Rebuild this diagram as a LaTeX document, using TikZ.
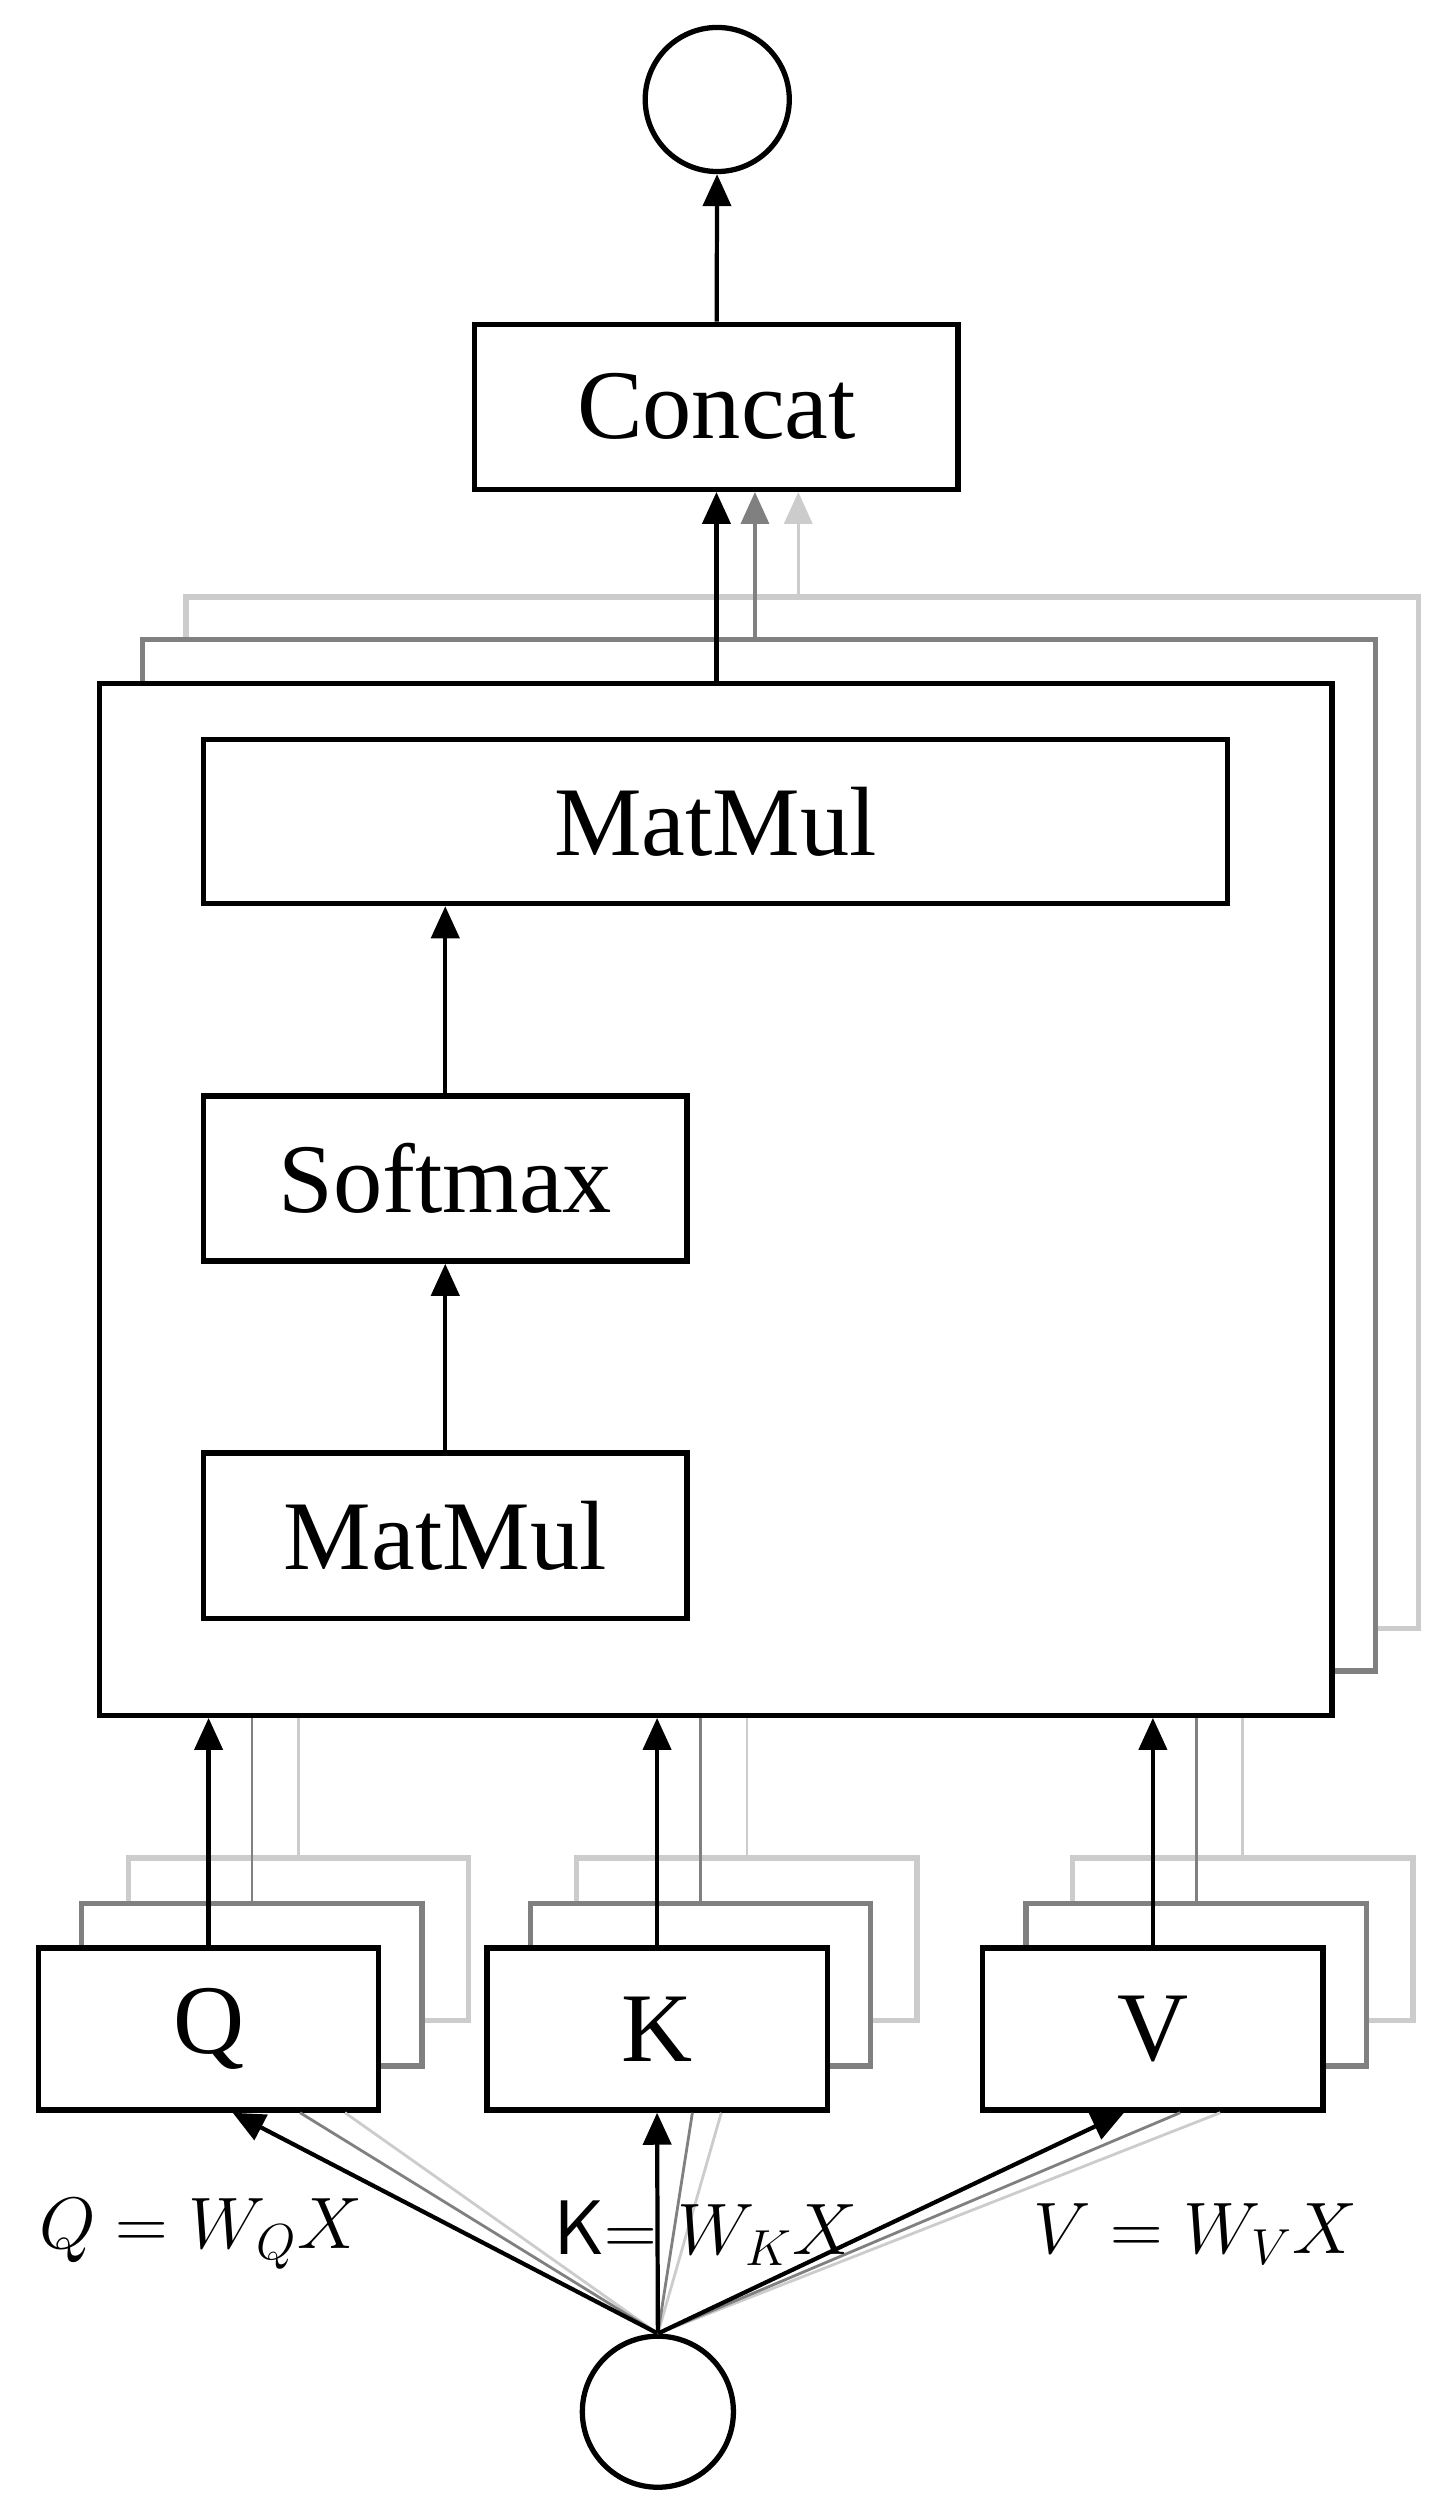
\documentclass[tikz,border=0pt]{standalone}
\usepackage{fontspec}
\setmainfont{Liberation Serif}
\usepackage{tikz}
\usetikzlibrary{arrows.meta, positioning, calc}
\definecolor{layerA}{gray}{0.5}
\definecolor{layerB}{gray}{0.8}

\begin{document}
\begin{tikzpicture}[
    x=0.01604cm, y=-0.01604cm,
    box/.style={draw, line width=1.5pt, fill=white, inner sep=0pt, font=\fontsize{28}{30}\selectfont},
    io/.style={draw, circle, line width=1.5pt, inner sep=0pt},
    arr/.style={-{Triangle[length=0.32cm, width=0.28cm]}, line width=1.2pt},
    lbl/.style={font=\fontsize{22}{24}\selectfont}
]
    \useasboundingbox (0,0) rectangle (900,1568);

    % --- Output and Concat ---
    \node[io, minimum size=1.44cm] (out) at (447,62) {};
    \node[box, minimum width=4.83cm, minimum height=1.65cm] (concat) at (446.5,253.5) {Concat};

    % --- Stacked attention heads ---
    \node[box, draw=layerB, minimum width=12.32cm, minimum height=10.31cm] (headB) at (500,693.5) {};
    \node[box, draw=layerA, minimum width=12.32cm, minimum height=10.31cm] (headA) at (473,720) {};
    \node[box, minimum width=12.32cm, minimum height=10.31cm] (head) at (446,747.5) {};

    % --- Inside the head ---
    \node[box, minimum width=10.23cm, minimum height=1.64cm] (mm2) at (446,512) {MatMul};
    \node[box, minimum width=4.83cm, minimum height=1.65cm] (soft) at (277.5,734.5) {Softmax};
    \node[box, minimum width=4.83cm, minimum height=1.65cm] (mm1) at (277.5,957) {MatMul};

    % --- Q, K, V with their layers ---
    \foreach \n/\t/\cx in {q/Q/130, k/K/409.5, v/V/718.5} {
        \node[box, draw=layerB, minimum width=3.40cm, minimum height=1.62cm] (\n B) at (\cx+56,1208.5) {};
        \node[box, draw=layerA, minimum width=3.40cm, minimum height=1.62cm] (\n A) at (\cx+27,1237) {};
        \node[box, minimum width=3.40cm, minimum height=1.62cm] (\n) at (\cx,1264.5) {\t};
    }

    \node[io, minimum size=1.51cm] (in) at (410,1503) {};

    % --- Arrows in the head ---
    \draw[arr] (mm1) -- (soft);
    \draw[arr] (soft.north) -- (soft.north |- mm2.south);
    \draw[arr] (concat) -- (out);
    \draw[arr] (head.north -| concat.south) -- (concat.south);
    \draw[arr, draw=layerA, fill=layerA, line width=1pt] ($(headA.north -| concat.south)+(24,0)$) -- ($(concat.south)+(24,0)$);
    \draw[arr, draw=layerB, fill=layerB, line width=1pt] ($(headB.north -| concat.south)+(51,0)$) -- ($(concat.south)+(51,0)$);

    % --- Q, K, V into the head ---
    \foreach \n in {q, k, v} {
        \draw[arr] (\n.north) -- (\n.north |- head.south);
        \draw[layerA, line width=0.8pt] (\n A.north) -- (\n A.north |- head.south);
        \draw[layerB, line width=0.8pt] (\n B.north) -- (\n B.north |- head.south);
    }

    % --- Projections from the input ---
    \draw[layerB, line width=0.8pt] (in.north) -- ($(q.south)+(85,0)$);
    \draw[layerA, line width=0.8pt] (in.north) -- ($(q.south)+(57,0)$);
    \draw[arr] (in.north) -- ($(q.south)+(15,0)$);
    \draw[layerB, line width=0.8pt] (in.north) -- ($(k.south)+(40,0)$);
    \draw[layerA, line width=0.8pt] (in.north) -- ($(k.south)+(22,0)$);
    \draw[arr] (in.north) -- (k.south);
    \draw[layerB, line width=0.8pt] (in.north) -- ($(v.south)+(42,0)$);
    \draw[layerA, line width=0.8pt] (in.north) -- ($(v.south)+(17,0)$);
    \draw[arr] (in.north) -- ($(v.south)+(-18,0)$);

    % --- Labels ---
    \node[lbl] (lq) at (125,1392) {$Q = W_Q X$};
    \node[lbl] (lk) at (440,1392) {\textsf{K}$= W_K X$};
    \node[lbl] (lv) at (745,1392) {$V = W_V X$};
\end{tikzpicture}
\end{document}
